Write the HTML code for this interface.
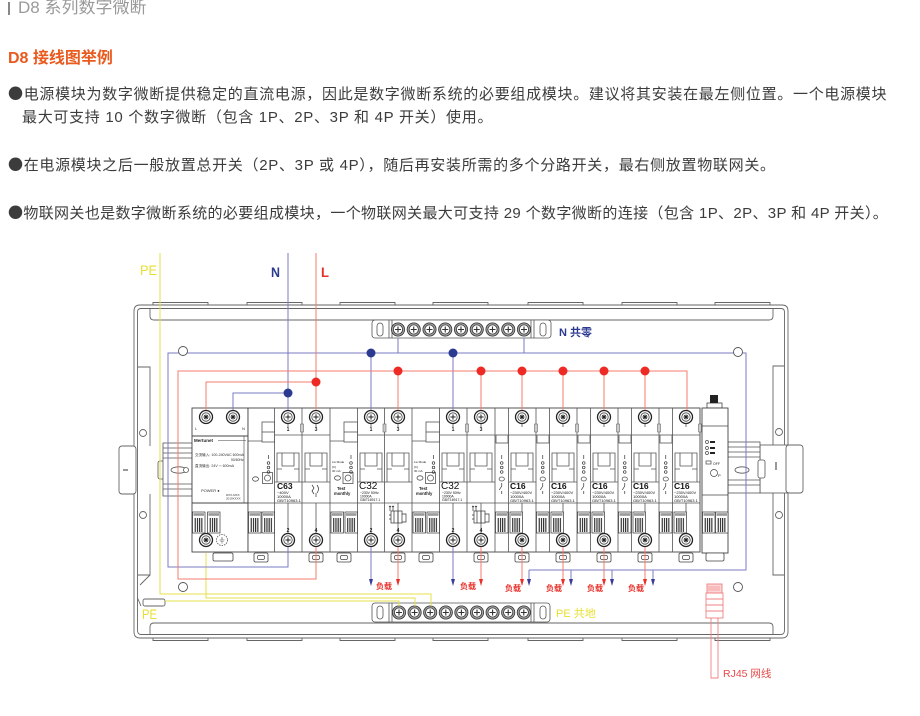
<!DOCTYPE html>
<html><head><meta charset="utf-8">
<style>
html,body{margin:0;padding:0;background:#fff;}
body{width:920px;height:716px;position:relative;overflow:hidden;font-family:"Liberation Sans","Noto Sans CJK SC",sans-serif;}
.t{position:absolute;white-space:nowrap;line-height:20px;}
.b{font-size:15px;letter-spacing:0.7px;color:#3c3c3c;}
.d{font-family:"Noto Sans CJK SC",sans-serif;}
</style></head><body>
<svg width="920" height="716" viewBox="0 0 920 716" xmlns="http://www.w3.org/2000/svg" style="position:absolute;left:0;top:0" font-family="Liberation Sans, Noto Sans CJK SC, sans-serif">
<defs>
<pattern id="st" width="2.2" height="4" patternUnits="userSpaceOnUse"><rect width="1.1" height="4" fill="#222"/></pattern>
<g id="blk"><rect x="0" y="512" width="12.5" height="21" fill="#fff" stroke="#333" stroke-width="0.7"/><rect x="1" y="513.2" width="10.5" height="2.6" fill="#999"/><rect x="1.5" y="518" width="9.5" height="14" fill="url(#st)"/></g>
<g id="scr"><circle r="6.5" fill="#fff" stroke="#222" stroke-width="1.3"/><circle r="4.2" fill="none" stroke="#444" stroke-width="0.8"/><path d="M-2.6 0H2.6M0-2.6V2.6" stroke="#222" stroke-width="1"/></g>
<g id="scr2"><circle r="6.5" fill="#fff" stroke="#222" stroke-width="1.3"/><circle r="4.2" fill="none" stroke="#444" stroke-width="0.8"/><path d="M-2.5 0H2.5M0-2.5V2.5M-1.8-1.8L1.8 1.8M-1.8 1.8L1.8-1.8" stroke="#222" stroke-width="0.9"/></g>
<g id="bs"><circle r="6.6" fill="#a0a0a0" stroke="#333" stroke-width="0.8"/><circle r="4.6" fill="#fff" stroke="#333" stroke-width="0.8"/><path d="M-3 0H3M0-3V3" stroke="#333" stroke-width="1.1"/></g>
<g id="clip"><rect x="-7" y="553" width="14" height="9" rx="1.5" fill="#fff" stroke="#444" stroke-width="0.8"/><rect x="-3.5" y="555.5" width="7" height="4" rx="1.5" fill="none" stroke="#444" stroke-width="0.7"/></g>
<g id="pole" fill="none" stroke="#555" stroke-width="0.8"><path d="M-11 482V453H11V482M-6 453V466H6V453M-11 469H-6M6 469H11"/><line x1="0" y1="503" x2="0" y2="533"/><line x1="0" y1="424" x2="0" y2="427"/></g>
<g id="io" fill="none" stroke="#333" stroke-width="0.7"><line x1="0" y1="455" x2="0" y2="459"/><circle cx="0" cy="463" r="1.3"/><circle cx="0" cy="467.5" r="1.3"/><circle cx="0" cy="472" r="1.3"/></g>
<g id="sw" fill="none" stroke="#333" stroke-width="0.7"><path d="M0 483V486L-2.5 490M0 491V494"/></g>
<g id="rcd" fill="none" stroke="#333" stroke-width="0.7"><path d="M-8 506V511M-5 506V511M-9 507L-8 506L-7 507M-6 507L-5 506L-4 507"/><rect x="-7" y="511" width="11" height="12"/><path d="M-4 511V523M0 511V523M4 514H8V522H4M-9 515H-7M-9 519H-7"/></g>
</defs>

<!-- enclosure -->
<g fill="none" stroke="#666" stroke-width="0.9">
<path d="M153 305v-2.5h55v2.5M247 305v-2.5h55v2.5M340 305v-2.5h55v2.5M433 305v-2.5h55v2.5M528 305v-2.5h55v2.5M622 305v-2.5h55v2.5M715 305v-2.5h55v2.5"/>
<path d="M153 638v2.5h55v-2.5M247 638v2.5h55v-2.5M340 638v2.5h55v-2.5M433 638v2.5h55v-2.5M528 638v2.5h55v-2.5M622 638v2.5h55v-2.5M715 638v2.5h55v-2.5"/>
<path d="M134 632V311Q134 305 140 305H782Q788 305 788 311V632Q788 638 782 638H140Q134 638 134 632Z"/>
<path d="M137.5 630V312Q137.5 308.5 141 308.5H781Q784.5 308.5 784.5 312V630Q784.5 634.5 781 634.5H141Q137.5 634.5 137.5 630Z"/>
<path d="M150 308.5V316Q150 320 154 320H769Q773 320 773 316V308.5"/>
<path d="M150 634.5V627Q150 623 154 623H769Q773 623 773 627V634.5"/>
<path d="M137.5 367H150V446M150 494V575H137.5M150 575L140 585M137.5 598L141 606"/>
<path d="M784.5 366H773V445M773 493V575H784.5"/>
<circle cx="143" cy="433" r="3.5"/><circle cx="143" cy="515" r="3.5"/>
<circle cx="779" cy="432" r="3.5"/><circle cx="779" cy="515" r="3.5"/>
</g>
<rect x="143" y="599" width="22" height="7" rx="2" fill="#fff" stroke="#666" stroke-width="0.9"/>
<!-- brackets -->
<rect x="119" y="446" width="17" height="48" rx="3" fill="#fff" stroke="#666" stroke-width="0.9"/>
<line x1="123" y1="470" x2="128" y2="470" stroke="#333"/>
<rect x="760" y="445" width="28" height="48" fill="#fff" stroke="#666" stroke-width="0.9"/>
<rect x="786" y="445" width="17" height="48" rx="3" fill="#fff" stroke="#666" stroke-width="0.9"/>
<line x1="776" y1="462" x2="776" y2="470" stroke="#333"/>
<!-- rails -->
<g fill="#fff" stroke="#555" stroke-width="0.8">
<rect x="158" y="461" width="6" height="18" rx="2"/>
<rect x="163" y="443" width="29" height="53"/>
<path d="M163 448H192M163 453H192M163 458H192M163 484H192M163 489H192" fill="none"/>
<ellipse cx="179" cy="470" rx="8" ry="3.2"/><circle cx="186" cy="470" r="2.5"/>
<rect x="728" y="442" width="32" height="51"/>
<path d="M728 447H760M728 452H760M728 457H760M728 480H760M728 485H760" fill="none"/>
<ellipse cx="742" cy="470" rx="7" ry="3.2"/>
<rect x="758" y="460" width="7" height="18" rx="2"/>
</g>

<!-- power module -->
<g stroke="#444" stroke-width="0.9" fill="none">
<rect x="192" y="408" width="56" height="144" fill="#fff"/>
<line x1="192" y1="436" x2="248" y2="436"/>
<line x1="192" y1="503" x2="248" y2="503"/>
<line x1="218" y1="440.5" x2="246" y2="440.5" stroke-width="0.6"/>
<line x1="244" y1="436" x2="244" y2="503" stroke-width="0.6"/>
</g>
<text x="194" y="442" font-size="4.5" font-weight="bold" fill="#222">Mertunet</text>
<text x="195" y="456" font-size="3.6" fill="#333">交流输入: 100-240VAC 600mA</text>
<text x="231" y="461" font-size="3.4" fill="#333">50/60Hz</text>
<text x="195" y="467" font-size="3.6" fill="#333">直流输出: 24V ⎓ 600mA</text>
<text x="201" y="492" font-size="4" fill="#333">POWER ●</text>
<text x="226" y="496" font-size="3" fill="#333">DXX-MXX</text>
<text x="226" y="499.5" font-size="3" fill="#333">2019XXXX</text>
<text x="195" y="430" font-size="4" fill="#333">L</text>
<text x="242" y="430" font-size="4" fill="#333">N</text>
<use href="#scr2" x="206" y="417"/><use href="#scr2" x="233" y="417"/>
<use href="#scr2" x="206" y="540"/>
<circle cx="222" cy="540" r="5.5" fill="#fff" stroke="#555" stroke-width="0.8" stroke-dasharray="1.5 1"/>
<path d="M222 537V540M219.5 540H224.5M220.5 541.5H223.5M221.3 543H222.7" stroke="#444" stroke-width="0.6" fill="none"/>
<use href="#blk" x="192.5"/><use href="#blk" x="207.5"/>
<rect x="213" y="553" width="20" height="8" rx="1.5" fill="#fff" stroke="#444" stroke-width="0.8"/>

<!-- breaker row -->
<rect x="248" y="408" width="452" height="144" fill="#fff" stroke="#444" stroke-width="0.9"/>
<g fill="none" stroke="#555" stroke-width="0.8">
<path d="M274.5 408V552M302 408V552M330 408V552M357.5 408V552M384.5 408V552M412 408V552M439.5 408V552M467 408V552M495 408V552M508.5 408V552M536 408V552M549.5 408V552M577 408V552M590.5 408V552M618 408V552M631.5 408V552M659 408V552M672.5 408V552"/>
<path d="M274.5 435H330M357.5 435H412M439.5 435H495M508.5 435H536M549.5 435H577M590.5 435H618M631.5 435H659M672.5 435H700M248 441H262M330 441H344M412 441H426"/>
<path d="M248 503H700"/>
<path d="M274.5 482H330M357.5 482H412M439.5 482H495M508.5 482H536M549.5 482H577M590.5 482H618M631.5 482H659M672.5 482H700"/>
</g>
<g fill="#ccc" stroke="#555" stroke-width="0.5">
<rect x="300.5" y="424" width="3" height="8"/><rect x="383" y="424" width="3" height="8"/><rect x="465.5" y="424" width="3" height="8"/>
<rect x="534.5" y="424" width="3" height="8"/><rect x="575.5" y="424" width="3" height="8"/><rect x="616.5" y="424" width="3" height="8"/><rect x="657.5" y="424" width="3" height="8"/><rect x="698.5" y="424" width="3" height="8"/>
</g>
<!-- poles -->
<use href="#pole" x="288"/><use href="#pole" x="316"/>
<use href="#pole" x="371"/><use href="#pole" x="398"/>
<use href="#pole" x="453"/><use href="#pole" x="481"/>
<use href="#pole" x="522"/><use href="#pole" x="563"/><use href="#pole" x="604"/><use href="#pole" x="645"/><use href="#pole" x="686"/>
<!-- strips 2P -->
<g fill="#fff" stroke="#555" stroke-width="0.8">
<rect x="262" y="422" width="12.5" height="20"/><line x1="262" y1="432" x2="274.5" y2="432"/>
<rect x="344" y="422" width="13.5" height="20"/><line x1="344" y1="432" x2="357.5" y2="432"/>
<rect x="426" y="422" width="13.5" height="20"/><line x1="426" y1="432" x2="439.5" y2="432"/>
<ellipse cx="255.5" cy="479" rx="3" ry="2.2"/><rect x="262.5" y="472.5" width="10" height="11"/><circle cx="267.5" cy="478" r="3"/>
<ellipse cx="337.5" cy="478" rx="3" ry="2.2"/><rect x="343" y="472.5" width="10" height="11"/><circle cx="348" cy="478" r="3"/>
<ellipse cx="420" cy="478" rx="3" ry="2.2"/><rect x="425.5" y="472.5" width="10" height="11"/><circle cx="430.5" cy="478" r="3"/>
</g>
<use href="#io" x="268.5"/><use href="#io" x="351"/><use href="#io" x="433.5"/>
<g font-size="3" fill="#222">
<text x="332" y="463">Lw Mode</text><text x="332" y="468">[C]</text><text x="332" y="472">30 mA</text>
<text x="414" y="463">Lw Mode</text><text x="414" y="468">[C]</text><text x="414" y="472">30 mA</text>
</g>
<g font-size="4.2" font-weight="bold" fill="#222">
<text x="337" y="490">Test</text><text x="334" y="495">monthly</text>
<text x="419" y="490">Test</text><text x="416" y="495">monthly</text>
</g>
<!-- C16 strips -->
<g fill="#fff" stroke="#555" stroke-width="0.8">
<rect x="496" y="435" width="12" height="8"/><rect x="537" y="435" width="12" height="8"/><rect x="578" y="435" width="12" height="8"/><rect x="619" y="435" width="12" height="8"/><rect x="660" y="435" width="12" height="8"/>
<ellipse cx="501.75" cy="479" rx="2.6" ry="2"/><ellipse cx="542.75" cy="479" rx="2.6" ry="2"/><ellipse cx="583.75" cy="479" rx="2.6" ry="2"/><ellipse cx="624.75" cy="479" rx="2.6" ry="2"/><ellipse cx="665.75" cy="479" rx="2.6" ry="2"/>
</g>
<use href="#io" x="501.75"/><use href="#io" x="542.75"/><use href="#io" x="583.75"/><use href="#io" x="624.75"/><use href="#io" x="665.75"/>
<use href="#sw" x="501.75"/><use href="#sw" x="542.75"/><use href="#sw" x="583.75"/><use href="#sw" x="624.75"/><use href="#sw" x="665.75"/>
<!-- symbols -->
<path d="M312 485l2 3-2 3 2 3M317 485q3 4 0 8M316 493v4" fill="none" stroke="#333" stroke-width="0.7"/>
<use href="#rcd" x="398"/><use href="#rcd" x="481"/>
<!-- blocks -->
<use href="#blk" x="248.5"/><use href="#blk" x="262"/>
<use href="#blk" x="331"/><use href="#blk" x="345"/>
<use href="#blk" x="413"/><use href="#blk" x="427"/>
<use href="#blk" x="495.5"/><use href="#blk" x="510"/>
<use href="#blk" x="536.5"/><use href="#blk" x="551"/>
<use href="#blk" x="577.5"/><use href="#blk" x="592"/>
<use href="#blk" x="618.5"/><use href="#blk" x="633"/>
<use href="#blk" x="659.5"/><use href="#blk" x="674"/>
<!-- screws -->
<use href="#scr" x="288" y="417"/><use href="#scr" x="316" y="417"/><use href="#scr" x="371" y="417"/><use href="#scr" x="398" y="417"/><use href="#scr" x="453" y="417"/><use href="#scr" x="481" y="417"/>
<use href="#scr" x="288" y="540"/><use href="#scr" x="316" y="540"/><use href="#scr" x="371" y="540"/><use href="#scr" x="398" y="540"/><use href="#scr" x="453" y="540"/><use href="#scr" x="481" y="540"/>
<use href="#scr2" x="522" y="417"/><use href="#scr2" x="563" y="417"/><use href="#scr2" x="604" y="417"/><use href="#scr2" x="645" y="417"/><use href="#scr2" x="686" y="417"/>
<use href="#scr2" x="522" y="540"/><use href="#scr2" x="563" y="540"/><use href="#scr2" x="604" y="540"/><use href="#scr2" x="645" y="540"/><use href="#scr2" x="686" y="540"/>
<g font-size="5" font-weight="bold" fill="#222" text-anchor="middle">
<text x="288" y="431">1</text><text x="316" y="431">3</text><text x="371" y="431">1</text><text x="398" y="431">3</text><text x="453" y="431">1</text><text x="481" y="431">3</text>
<text x="288" y="532">2</text><text x="316" y="532">4</text><text x="371" y="532">2</text><text x="398" y="532">4</text><text x="453" y="532">2</text><text x="481" y="532">4</text>
</g>
<!-- clips -->
<use href="#clip" x="261"/><use href="#clip" x="316"/><use href="#clip" x="344"/><use href="#clip" x="398"/><use href="#clip" x="426"/><use href="#clip" x="481"/>
<use href="#clip" x="522"/><use href="#clip" x="563"/><use href="#clip" x="604"/><use href="#clip" x="645"/><use href="#clip" x="686"/>
<!-- breaker texts -->
<g fill="#111">
<text x="277" y="489" font-size="8.5" font-weight="bold">C63</text>
<text x="277" y="494" font-size="4">~400V</text><text x="277" y="498" font-size="4">10000A</text><text x="277" y="502" font-size="4">GB/T10963.1</text>
<text x="359" y="489" font-size="10">C32</text>
<text x="360" y="494" font-size="3.4">~230V 50Hz</text><text x="360" y="497.5" font-size="3.4">10000A</text><text x="360" y="501" font-size="3.4">GB/T16917.1</text>
<text x="441" y="489" font-size="10">C32</text>
<text x="442" y="494" font-size="3.4">~230V 50Hz</text><text x="442" y="497.5" font-size="3.4">10000A</text><text x="442" y="501" font-size="3.4">GB/T16917.1</text>
</g>
<g fill="#111">
<text x="510" y="489" font-size="8.5" font-weight="bold">C16</text><text x="510" y="494" font-size="4">~230V/400V</text><text x="510" y="498" font-size="4">10000A</text><text x="510" y="502" font-size="4">GB/T10963.1</text>
<text x="551" y="489" font-size="8.5" font-weight="bold">C16</text><text x="551" y="494" font-size="4">~230V/400V</text><text x="551" y="498" font-size="4">10000A</text><text x="551" y="502" font-size="4">GB/T10963.1</text>
<text x="592" y="489" font-size="8.5" font-weight="bold">C16</text><text x="592" y="494" font-size="4">~230V/400V</text><text x="592" y="498" font-size="4">10000A</text><text x="592" y="502" font-size="4">GB/T10963.1</text>
<text x="633" y="489" font-size="8.5" font-weight="bold">C16</text><text x="633" y="494" font-size="4">~230V/400V</text><text x="633" y="498" font-size="4">10000A</text><text x="633" y="502" font-size="4">GB/T10963.1</text>
<text x="674" y="489" font-size="8.5" font-weight="bold">C16</text><text x="674" y="494" font-size="4">~230V/400V</text><text x="674" y="498" font-size="4">10000A</text><text x="674" y="502" font-size="4">GB/T10963.1</text>
</g>
<!-- gateway -->
<rect x="707" y="403" width="15" height="5" fill="#fff" stroke="#444" stroke-width="0.8"/>
<rect x="710" y="395" width="8" height="8" fill="#222"/>
<rect x="702" y="408" width="26" height="145" fill="#fff" stroke="#444" stroke-width="0.9"/>
<g fill="none" stroke="#444" stroke-width="0.7">
<line x1="702" y1="426" x2="728" y2="426"/>
<line x1="702" y1="495" x2="728" y2="495"/>
<circle cx="707" cy="442" r="1.5"/><circle cx="707" cy="448" r="1.5"/><circle cx="707" cy="453" r="1.5"/>
<rect x="706" y="461" width="5" height="3"/>
<circle cx="714" cy="473" r="3.5"/>
</g>
<g fill="#222"><rect x="710" y="441" width="5" height="2"/><rect x="710" y="447" width="5" height="2"/><rect x="710" y="452" width="5" height="2"/></g>
<text x="713" y="465" font-size="3.5" fill="#222">OFF</text>
<text x="718" y="477" font-size="4" fill="#222">P</text>
<use href="#blk" x="702.5"/><use href="#blk" x="715.5"/>
<rect x="706" y="553" width="18" height="8" rx="1.5" fill="#fff" stroke="#444" stroke-width="0.8"/>

<!-- busbars -->
<g fill="#fff" stroke="#555" stroke-width="0.8">
<rect x="372" y="320" width="179" height="18" rx="3"/>
<path d="M389 320V338M392 320V338M531 320V338M534 320V338" fill="none"/>
<rect x="377" y="323" width="6" height="13" rx="3"/><rect x="540" y="323" width="6" height="13" rx="3"/>
<rect x="372" y="603" width="178" height="19" rx="3"/>
<path d="M389 603V622M392 603V622M531 603V622M534 603V622" fill="none"/>
<rect x="377" y="606" width="6" height="13" rx="3"/><rect x="540" y="606" width="6" height="13" rx="3"/>
</g>
<use href="#bs" x="398" y="329.5"/><use href="#bs" x="413.75" y="329.5"/><use href="#bs" x="429.5" y="329.5"/><use href="#bs" x="445.25" y="329.5"/><use href="#bs" x="461" y="329.5"/><use href="#bs" x="476.75" y="329.5"/><use href="#bs" x="492.5" y="329.5"/><use href="#bs" x="508.25" y="329.5"/><use href="#bs" x="524" y="329.5"/>
<use href="#bs" x="399" y="612.5"/><use href="#bs" x="414.6" y="612.5"/><use href="#bs" x="430.2" y="612.5"/><use href="#bs" x="445.8" y="612.5"/><use href="#bs" x="461.4" y="612.5"/><use href="#bs" x="477" y="612.5"/><use href="#bs" x="492.6" y="612.5"/><use href="#bs" x="508.2" y="612.5"/><use href="#bs" x="523.8" y="612.5"/>

<!-- wires -->
<g fill="none" stroke-width="1">
<path stroke="#e6e04a" d="M160 253V594H431V606M206 553V598H415V606M165 601H399V606"/>
<path stroke="#7b7bc6" d="M288 253V410M288 393H233V410M288 547V567H168V353H746V570H529M398 338V353M524 338V353M371 353V410M453 353V410M371 547V580M453 547V580M529 570V580M571 570V580M612 570V580M653 570V580"/>
<path stroke="#f47c6c" d="M316 253V410M316 382H206V410M316 547V579H178V371H687V410M398 371V410M481 371V410M522 371V410M563 371V410M604 371V410M645 371V410M398 547V580M481 547V580M522 547V580M563 547V580M604 547V580M645 547V580"/>
</g>
<g fill="#3a3a9a">
<polygon points="369,579 373,579 371,586"/><polygon points="451,579 455,579 453,586"/><polygon points="527,579 531,579 529,586"/><polygon points="569,579 573,579 571,586"/><polygon points="610,579 614,579 612,586"/><polygon points="651,579 655,579 653,586"/>
</g>
<g fill="#e8302a">
<polygon points="396,579 400,579 398,586"/><polygon points="479,579 483,579 481,586"/><polygon points="520,579 524,579 522,586"/><polygon points="561,579 565,579 563,586"/><polygon points="602,579 606,579 604,586"/><polygon points="643,579 647,579 645,586"/>
</g>
<g fill="#fff" stroke="#555" stroke-width="0.9">
<circle cx="183" cy="351" r="4.5"/><circle cx="738" cy="352" r="4.5"/>
<circle cx="183" cy="587" r="4.5"/><circle cx="738" cy="587" r="4.5"/>
</g>
<g fill="#2b3990"><circle cx="288" cy="393" r="4.5"/><circle cx="371" cy="353" r="4.5"/><circle cx="453" cy="353" r="4.5"/></g>
<g fill="#ee2a24"><circle cx="316" cy="382" r="4.5"/><circle cx="398" cy="371" r="4.5"/><circle cx="481" cy="371" r="4.5"/><circle cx="522" cy="371" r="4.5"/><circle cx="563" cy="371" r="4.5"/><circle cx="604" cy="371" r="4.5"/><circle cx="645" cy="371" r="4.5"/></g>

<!-- load labels -->
<g font-size="8" font-weight="bold" fill="#e8302a" font-family="Liberation Sans, Noto Sans CJK SC, sans-serif">
<text x="376" y="589">负载</text><text x="460" y="589">负载</text><text x="505" y="591">负载</text><text x="546" y="591">负载</text><text x="587" y="591">负载</text><text x="628" y="591">负载</text>
</g>

<!-- RJ45 -->
<g stroke="#f08080" fill="none" stroke-width="0.9">
<rect x="707" y="584" width="15" height="9" fill="#fbd6d6"/>
<rect x="706" y="593" width="17" height="25"/>
<path d="M706 599H723M706 605H723M706 611H723M711 618V678H718V618"/>
<path d="M709 586V591M711 586V591M713 586V591M715 586V591M717 586V591M719 586V591" stroke-width="0.6"/>
</g>
<text x="723" y="677" font-size="10.5" fill="#e84a4a">RJ45 网线</text>

<!-- top labels -->
<text x="140" y="275" font-size="13.5" fill="#e8e030" textLength="17" lengthAdjust="spacingAndGlyphs">PE</text>
<text x="271" y="277" font-size="14" font-weight="bold" fill="#2b3990" textLength="9" lengthAdjust="spacingAndGlyphs">N</text>
<text x="321" y="277" font-size="14" font-weight="bold" fill="#e8302a" textLength="8" lengthAdjust="spacingAndGlyphs">L</text>
<text x="142" y="619" font-size="13.5" fill="#e8e030" textLength="15" lengthAdjust="spacingAndGlyphs">PE</text>
<text x="559" y="336" font-size="11" font-weight="bold" fill="#2b3990">N 共零</text>
<text x="556" y="617" font-size="11" fill="#e8e030">PE 共地</text>
</svg>

<div style="position:absolute;left:8px;top:2px;width:1.5px;height:13px;background:#888"></div>
<div class="t" style="left:18px;top:-2px;font-size:17px;color:#9a9a9a;">D8 系列数字微断</div>
<div class="t" style="left:8px;top:49px;font-size:16px;font-weight:bold;color:#e85a1e;">D8 接线图举例</div>
<div class="t b" style="left:8px;top:84px;"><span class="d">●</span>电源模块为数字微断提供稳定的直流电源，因此是数字微断系统的必要组成模块。建议将其安装在最左侧位置。一个电源模块</div>
<div class="t b" style="left:22px;top:108px;">最大可支持 10 个数字微断（包含 1P、2P、3P 和 4P 开关）使用。</div>
<div class="t b" style="left:8px;top:155px;"><span class="d">●</span>在电源模块之后一般放置总开关（2P、3P 或 4P），随后再安装所需的多个分路开关，最右侧放置物联网关。</div>
<div class="t b" style="left:8px;top:203px;letter-spacing:0.35px;"><span class="d">●</span>物联网关也是数字微断系统的必要组成模块，一个物联网关最大可支持 29 个数字微断的连接（包含 1P、2P、3P 和 4P 开关）。</div>
</body></html>
